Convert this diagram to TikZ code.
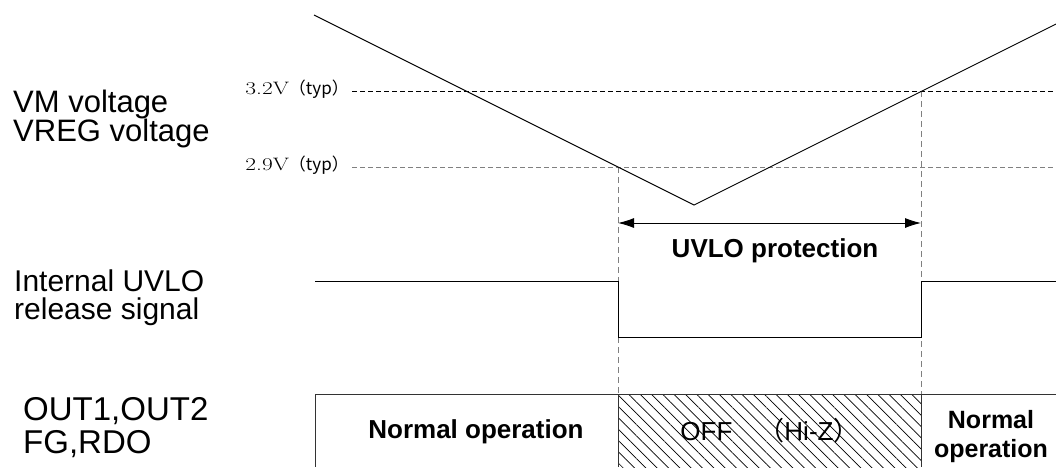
\documentclass[tikz,border=0pt]{standalone}
\usepackage{fontspec}
\newfontfamily\arialf{Liberation Sans}
\newfontfamily\jpfont{Noto Sans CJK JP}
\usetikzlibrary{arrows.meta,patterns.meta}
\begin{document}
\begin{tikzpicture}[x=1pt,y=-1pt,
  lbl/.style={anchor=base west, inner sep=0pt, align=left},
  boldtxt/.style={anchor=base, inner sep=0pt, font=\arialf\bfseries\fontsize{26}{30}\selectfont},
  rbold/.style={inner sep=0pt, align=center, font=\arialf\bfseries\fontsize{25}{29}\selectfont},
  thr/.style={anchor=base east, inner sep=0pt},
  sig/.style={line width=0.9pt, black},
  hguide/.style={line width=0.8pt, dash pattern=on 5pt off 3pt},
  vguide/.style={line width=1pt, draw=gray, dash pattern=on 6pt off 4pt},
  boxline/.style={line width=0.9pt, draw=black!80},
  dimarrow/.style={line width=0.9pt, {Latex[length=16pt,width=10pt]}-{Latex[length=16pt,width=10pt]}}
]
\useasboundingbox (0,0) rectangle (1056,467);

% key coordinates
\coordinate (vs) at (314,15);
\coordinate (vmin) at (694,205);
\coordinate (ve) at (1056,24);
\coordinate (t32s) at (352,91);
\coordinate (t32e) at (1056,91);
\coordinate (t29s) at (352,167);
\coordinate (t29e) at (1056,167);
\coordinate (x1) at (618,167);
\coordinate (x2) at (921,91);
\coordinate (x1b) at (618,394);
\coordinate (x2b) at (921,394);
\coordinate (a1) at (618,223);
\coordinate (a2) at (921,223);
\coordinate (s0) at (315,281);
\coordinate (s1) at (618,281);
\coordinate (s2) at (618,337);
\coordinate (s3) at (921,337);
\coordinate (s4) at (921,281);
\coordinate (s5) at (1056,281);
\coordinate (bTR) at (1056,394);
\coordinate (bTL) at (315,394);
\coordinate (bBL) at (315,467);
\coordinate (d1b) at (618,467);
\coordinate (d2b) at (921,467);

% left labels (base anchor = baseline of last line)
\node[lbl, font=\arialf\fontsize{31}{29}\selectfont] (vm) at (13,141) {VM voltage\\VREG voltage};
\node[lbl, font=\arialf\fontsize{30}{28}\selectfont] (int) at (14,319) {Internal UVLO\\release signal};
\node[lbl, font=\arialf\fontsize{33}{33}\selectfont] (out) at (23,453) {OUT1,OUT2\\FG,RDO};

% threshold labels
\node[thr] (l32) at (349,94) {\scalebox{1.3}[1]{\fontsize{18}{21}\selectfont 3.2V}{\jpfont\fontsize{17}{20}\selectfont （typ）}};
\node[thr] (l29) at (349,170) {\scalebox{1.3}[1]{\fontsize{18}{21}\selectfont 2.9V}{\jpfont\fontsize{17}{20}\selectfont （typ）}};

% threshold lines
\draw[hguide, draw=black] (t32s) -- (t32e);
\draw[hguide, draw=gray] (t29s) -- (t29e);

% vertical guides
\draw[vguide] (x1) -- (x1b);
\draw[vguide] (x2) -- (x2b);

% voltage curve
\draw[sig] (vs) -- (vmin) -- (ve);

% UVLO protection arrow
\draw[dimarrow] (a1) -- (a2);
\node[boldtxt] (uvlo) at (775,257) {UVLO protection};

% internal release signal
\draw[sig] (s0) -- (s1) -- (s2) -- (s3) -- (s4) -- (s5);

% output state bar
\fill[pattern={Lines[angle=-45,distance=8pt,line width=0.7pt]}] (x1b) rectangle (d2b);
\draw[boxline] (bTR) -- (bTL) -- (bBL);
\draw[boxline] (x1b) -- (d1b);
\draw[boxline] (x2b) -- (d2b);
\node[boldtxt] (norm1) at (476,438) {Normal operation};
\node[anchor=base, inner sep=0pt, font=\arialf\fontsize{26}{30}\selectfont] (off) at (770,440) {OFF{\jpfont　（}Hi-Z{\jpfont ）}};
\node[rbold, anchor=base] (norm2a) at (991,428) {Normal};
\node[rbold, anchor=base] (norm2b) at (991,457) {operation};
\end{tikzpicture}
\end{document}
